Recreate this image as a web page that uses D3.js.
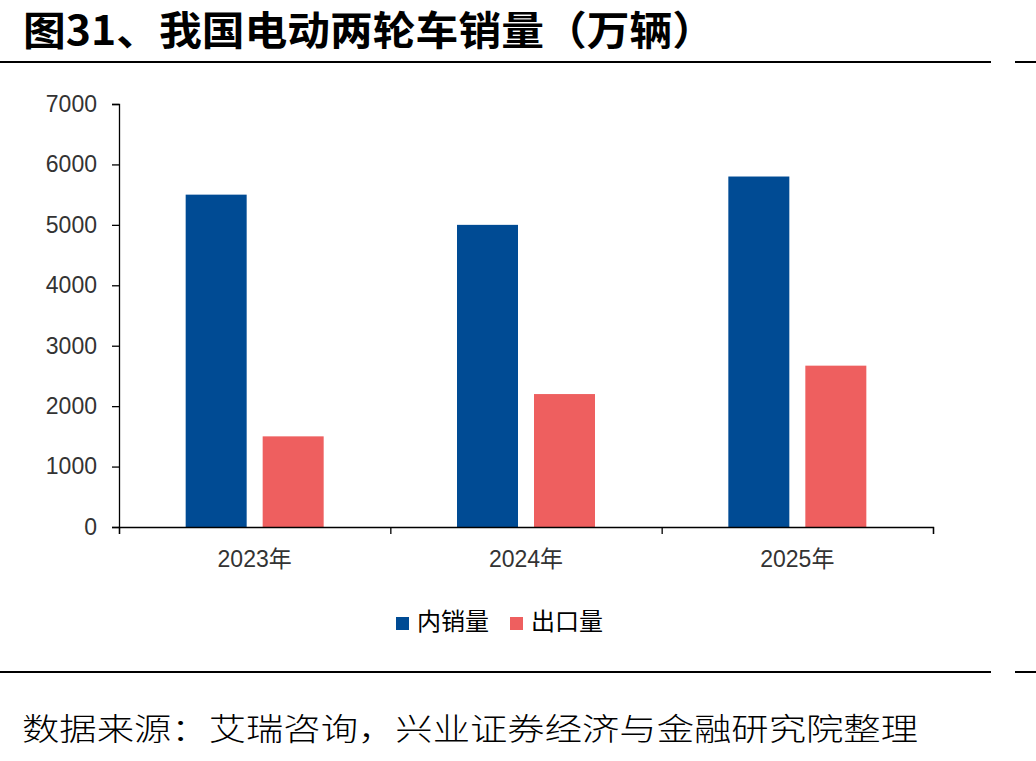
<!DOCTYPE html>
<html>
<head>
<meta charset="utf-8">
<script src="https://cdn.jsdelivr.net/npm/d3@7"></script>
<style>
  body { margin: 0; background: #fff; }
  text { font-family: "Liberation Sans", Arial, "Noto Sans CJK SC", sans-serif; }
  .cjk { font-family: "Noto Sans CJK SC", sans-serif; }
</style>
</head>
<body>
<div id="wrapper"></div>
<script>
// data
const years = ["2023年", "2024年", "2025年"];
const domestic = [5500, 5000, 5800];   // 内销量
const exported = [1500, 2200, 2670];   // 出口量
const seriesNames = ["内销量", "出口量"];
const yTicks = [0, 1000, 2000, 3000, 4000, 5000, 6000, 7000];

const W = 1036, H = 761;
const colors = ["#004B94", "#EE5F5F"];

var svg = d3.select("#wrapper").append("svg").attr("width", W).attr("height", H);
svg.append("rect").attr("width", W).attr("height", H).attr("fill", "#fff");

// title + rules (glyphs stretched sideways like the original)
svg.append("text").attr("class", "cjk").attr("x", 23).attr("y", 45)
  .attr("font-size", 40).attr("font-weight", "bold").attr("fill", "#000")
  .attr("textLength", 692).attr("lengthAdjust", "spacingAndGlyphs")
  .text("图31、我国电动两轮车销量（万辆）");

[62, 672].forEach(function(yy) {
  svg.append("line").attr("x1", 0).attr("x2", 991).attr("y1", yy).attr("y2", yy)
    .attr("stroke", "#000").attr("stroke-width", 2);
  svg.append("line").attr("x1", 1015).attr("x2", 1036).attr("y1", yy).attr("y2", yy)
    .attr("stroke", "#000").attr("stroke-width", 2);
});

// scales
var x = d3.scaleBand().domain(years).range([119, 933]);
var xEdge = d3.scaleLinear().domain([0, years.length]).range([119, 933]);
var y = d3.scaleLinear().domain([0, 7000]).range([527, 104]);

// bars: width 61, gap 16 inside each band
var barW = 61, gap = 16;
var rows = years.map(function(yr, i) { return { year: yr, vals: [domestic[i], exported[i]] }; });

var canvas = svg.append("g");
rows.forEach(function(r) {
  r.vals.forEach(function(v, j) {
    var bx = x(r.year) + x.bandwidth() / 2 + (j === 0 ? -gap / 2 - barW : gap / 2);
    canvas.append("rect")
      .attr("x", bx).attr("width", barW)
      .attr("y", y(v)).attr("height", y(0) - y(v))
      .attr("fill", colors[j]);
  });
});

// y axis
var yAxisCall = d3.axisLeft(y).tickValues(yTicks).tickSize(7).tickPadding(15).tickFormat(d3.format("d"));
var gy = svg.append("g").attr("transform", "translate(119,0)").call(yAxisCall);
gy.select(".domain").attr("stroke", "#000").attr("stroke-width", 1.3);
gy.selectAll(".tick line").attr("stroke", "#000").attr("stroke-width", 1.3);
gy.selectAll("text").attr("font-size", 23).attr("fill", "#333")
  .attr("font-family", "'Liberation Sans', Arial, sans-serif");

// x axis (ticks at category edges)
var xAxisCall = d3.axisBottom(xEdge).tickValues(d3.range(years.length + 1)).tickSize(7).tickFormat("");
var gx = svg.append("g").attr("transform", "translate(0,527)").call(xAxisCall);
gx.select(".domain").attr("stroke", "#000").attr("stroke-width", 1.3);
gx.selectAll(".tick line").attr("stroke", "#000").attr("stroke-width", 1.3);

svg.selectAll(".xlab").data(years).enter().append("text")
  .attr("class", "xlab")
  .attr("x", function(d) { return x(d) + x.bandwidth() / 2; })
  .attr("y", 567)
  .attr("text-anchor", "middle").attr("font-size", 23).attr("fill", "#333")
  .text(function(d) { return d; });

// legend
var legX = [396, 510];
seriesNames.forEach(function(n, j) {
  svg.append("rect").attr("x", legX[j]).attr("y", 617).attr("width", 13).attr("height", 13).attr("fill", colors[j]);
  svg.append("text").attr("class", "cjk").attr("x", legX[j] + 21).attr("y", 630)
    .attr("font-size", 24).attr("fill", "#000").text(n);
});

// source
svg.append("text").attr("class", "cjk").attr("x", 22).attr("y", 740)
  .attr("font-size", 31).attr("font-weight", 300).attr("fill", "#000")
  .attr("textLength", 896).attr("lengthAdjust", "spacingAndGlyphs")
  .text("数据来源：艾瑞咨询，兴业证券经济与金融研究院整理");
</script>
</body>
</html>
